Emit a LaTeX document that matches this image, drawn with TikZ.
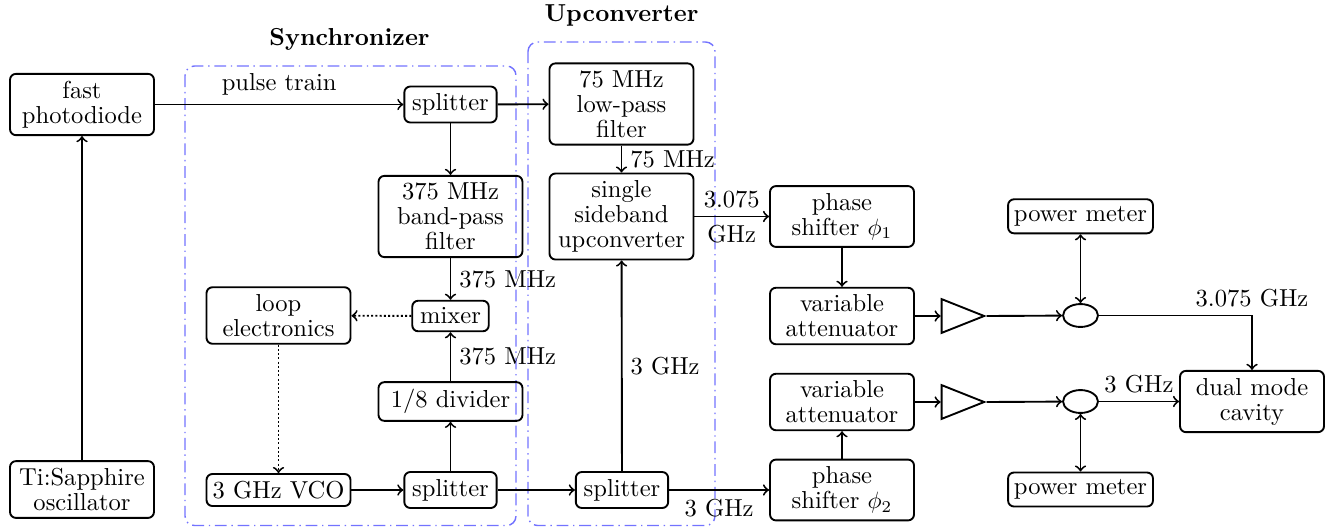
\documentclass[tikz,border=0pt]{standalone}
\usetikzlibrary{shapes.geometric}
\begin{document}
\begin{tikzpicture}[x=0.4237pt, y=-0.4237pt,
  every node/.style={font=\fontsize{10.4pt}{10.6pt}\selectfont},
  box/.style={draw, thick, rounded corners=2.5pt, align=center, minimum width=61pt, inner xsep=2.5pt, inner ysep=3pt},
  sbox/.style={draw, thick, rounded corners=2.5pt, inner xsep=3.33pt, inner ysep=3pt},
  conn/.style={thick, ->},
  dconn/.style={thick, densely dotted, ->},
  bconn/.style={thick, <->},
  grp/.style={draw=blue!55, semithick, dash pattern=on 5pt off 2pt on 0.6pt off 2pt, rounded corners=4pt},
  amp/.style={draw, thick, isosceles triangle, isosceles triangle stretches, minimum width=14.3pt, minimum height=18pt, inner sep=0pt, anchor=lower side},
  comb/.style={draw, thick, ellipse, minimum width=14.8pt, minimum height=9.7pt, inner sep=0pt},
  ttl/.style={font=\fontsize{10.4pt}{12pt}\selectfont\bfseries}]
\useasboundingbox (0,0) rectangle (1334,527);

% groups
\draw[grp] (185,66) rectangle (516,525.5);
\draw[grp] (528,42) rectangle (715,525.5);
\node[ttl] (tsync) at (349.5,39) {Synchronizer};
\node[ttl] (tup) at (621.5,15) {Upconverter};

% nodes
\node[box] (photo) at (82,104.5) {fast\\photodiode};
\node[box] (tisa) at (82,489.5) {Ti:Sapphire\\oscillator};
\node[sbox] (split1) at (450.5,104.5) {splitter};
\node[box] (bpf) at (450.5,216.5) {375 MHz\\band-pass\\filter};
\node[sbox] (mixer) at (450.5,316) {mixer};
\node[box] (div) at (450.5,401.5) {1/8 divider};
\node[sbox] (split2) at (450.5,490) {splitter};
\node[box] (loop) at (278.5,315.5) {loop\\electronics};
\node[box] (vco) at (278.5,490) {3 GHz VCO};
\node[box] (lpf) at (621.5,104) {75 MHz\\low-pass\\filter};
\node[box] (ssb) at (621.5,216.5) {single\\sideband\\upconverter};
\node[sbox] (split3) at (622,490) {splitter};
\node[box] (ps1) at (842,216.5) {phase\\shifter $\phi_1$};
\node[box] (att1) at (842,316) {variable\\attenuator};
\node[box] (att2) at (842,402) {variable\\attenuator};
\node[box] (ps2) at (842,490) {phase\\shifter $\phi_2$};
\node[amp] (amp1) at (940.7,316) {};
\node[amp] (amp2) at (940.7,402) {};
\node[comb] (comb1) at (1080.5,315.5) {};
\node[comb] (comb2) at (1080.5,401.5) {};
\node[box] (pm1) at (1080.5,216.3) {power meter};
\node[box] (pm2) at (1080.5,489.5) {power meter};
\node[box] (cav) at (1252,401.5) {dual mode\\cavity};

% connectors
\draw[conn] (tisa) -- (photo);
\draw[conn] (photo) -- node[above] {pulse train} (split1);
\draw[conn] (split1) -- (lpf);
\draw[conn] (split1) -- (bpf);
\draw[conn] (bpf) -- node[right] {375 MHz} (mixer);
\draw[conn] (div) -- node[right] {375 MHz} (mixer);
\draw[conn] (split2) -- (div);
\draw[dconn] (mixer) -- (loop);
\draw[dconn] (loop) -- (vco);
\draw[conn] (vco) -- (split2);
\draw[conn] (split2) -- (split3);
\draw[conn] (split3) -- node[right] {3 GHz} (ssb);
\draw[conn] (split3) -- node[below] {3 GHz} (ps2);
\draw[conn] (lpf) -- node[right] {75 MHz} (ssb);
\draw[conn] (ssb) -- node[above] {3.075} node[below] {GHz} (ps1);
\draw[conn] (ps1) -- (att1);
\draw[conn] (ps2) -- (att2);
\draw[conn] (att1) -- (amp1.lower side);
\draw[conn] (att2) -- (amp2.lower side);
\draw[conn] (amp1.apex) -- (comb1);
\draw[conn] (amp2.apex) -- (comb2);
\draw[bconn] (pm1) -- (comb1);
\draw[bconn] (comb2) -- (pm2);
\draw[conn] (comb1) -| node[above, pos=0.5] {3.075 GHz} (cav);
\draw[conn] (comb2) -- node[above] {3 GHz} (cav);
\end{tikzpicture}
\end{document}
